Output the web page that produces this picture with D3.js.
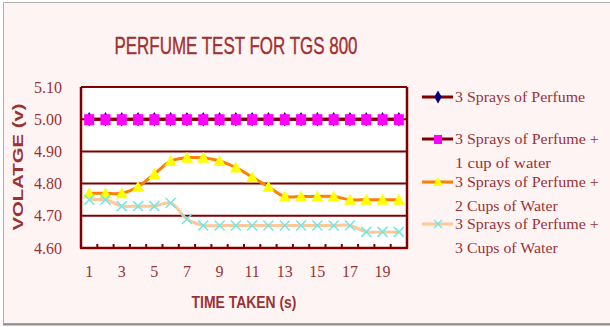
<!DOCTYPE html>
<html>
<head>
<meta charset="utf-8">
<script src="https://cdn.jsdelivr.net/npm/d3@7"></script>
<style>
  body { margin: 0; background: #fff; }
  svg { display: block; }
  text { fill: #993333; }
</style>
</head>
<body>
<div id="chart-area"></div>
<script>
// data
var times = d3.range(1, 21);
var yTicks = [4.60, 4.70, 4.80, 4.90, 5.00, 5.10];
var seriesNames = [
  ["3 Sprays of Perfume"],
  ["3 Sprays of Perfume +", "1 cup of water"],
  ["3 Sprays of Perfume +", "2 Cups of Water"],
  ["3 Sprays of Perfume +", "3 Cups of Water"]
];
var perfume = [5.00, 5.00, 5.00, 5.00, 5.00, 5.00, 5.00, 5.00, 5.00, 5.00,
               5.00, 5.00, 5.00, 5.00, 5.00, 5.00, 5.00, 5.00, 5.00, 5.00];
var oneCup  = [5.00, 5.00, 5.00, 5.00, 5.00, 5.00, 5.00, 5.00, 5.00, 5.00,
               5.00, 5.00, 5.00, 5.00, 5.00, 5.00, 5.00, 5.00, 5.00, 5.00];
var twoCups = [4.77, 4.77, 4.77, 4.79, 4.83, 4.87, 4.88, 4.88, 4.87, 4.85,
               4.82, 4.79, 4.76, 4.76, 4.76, 4.76, 4.75, 4.75, 4.75, 4.75];
var threeCups = [4.75, 4.75, 4.73, 4.73, 4.73, 4.74, 4.69, 4.67, 4.67, 4.67,
                 4.67, 4.67, 4.67, 4.67, 4.67, 4.67, 4.67, 4.65, 4.65, 4.65];

var W = 610, H = 327;
var margin = {left: 81, right: 203, top: 87, bottom: 79};
var width = W - margin.left - margin.right,
    height = H - margin.top - margin.bottom;

var svg = d3.select("#chart-area").append("svg")
    .attr("width", W)
    .attr("height", H);

// pink chart background with grey frame
svg.append("rect")
    .attr("x", 3.5).attr("y", 2.5)
    .attr("width", W).attr("height", 321)
    .attr("fill", "#fff4f4");
svg.append("path")
    .attr("d", "M" + W + ",2.5H3.5V323.5H" + W)
    .attr("fill", "none")
    .attr("stroke", "#b0b0b0")
    .attr("stroke-width", 1);
svg.append("line")
    .attr("x1", 3).attr("x2", W).attr("y1", 324.5).attr("y2", 324.5)
    .attr("stroke", "#909090").attr("stroke-width", 2);

// title
svg.append("text")
    .attr("x", 236).attr("y", 54)
    .attr("text-anchor", "middle")
    .attr("textLength", 243)
    .attr("lengthAdjust", "spacingAndGlyphs")
    .style("font-family", "'Liberation Sans Narrow', 'Liberation Sans', sans-serif")
    .style("font-size", "24px")
    .style("fill", "#a03030")
    .style("stroke", "#a03030")
    .style("stroke-width", 0.4)
    .text("PERFUME TEST FOR TGS 800");

var g = svg.append("g")
    .attr("transform", "translate(" + margin.left + "," + margin.top + ")");

var x = d3.scaleBand()
    .domain(times)
    .range([0, width])
    .padding(0);

var y = d3.scaleLinear()
    .domain([4.6, 5.1])
    .range([height, 0]);

var cx = function (d, i) { return x(times[i]) + x.bandwidth() / 2; };

g.append("rect")
    .attr("width", width).attr("height", height)
    .attr("fill", "#ffffff");

// gridlines
g.append("g")
    .selectAll("line")
    .data(yTicks.slice(1))
    .enter().append("line")
    .attr("x1", 0).attr("x2", width)
    .attr("y1", function (d) { return y(d); })
    .attr("y2", function (d) { return y(d); })
    .attr("stroke", "#800000")
    .attr("stroke-width", 2);

// y axis labels
g.append("g")
    .selectAll("text")
    .data(yTicks)
    .enter().append("text")
    .attr("x", -19)
    .attr("y", function (d) { return y(d); })
    .attr("dy", "0.35em")
    .attr("text-anchor", "end")
    .style("font-family", "'Liberation Serif', serif")
    .style("font-size", "16px")
    .text(function (d) { return d3.format(".2f")(d); });

// x axis with inner ticks at category boundaries
var xAxis = g.append("g")
    .attr("transform", "translate(0," + height + ")");
xAxis.selectAll("line")
    .data(times.slice(1))
    .enter().append("line")
    .attr("x1", function (d) { return x(d); })
    .attr("x2", function (d) { return x(d); })
    .attr("y1", 0).attr("y2", -4)
    .attr("stroke", "#800000").attr("stroke-width", 2);
xAxis.selectAll("text")
    .data(times.filter(function (d) { return d % 2 === 1; }))
    .enter().append("text")
    .attr("x", function (d) { return x(d) + x.bandwidth() / 2; })
    .attr("y", 29)
    .attr("text-anchor", "middle")
    .style("font-family", "'Liberation Serif', serif")
    .style("font-size", "16px")
    .text(function (d) { return d; });

// frame: left axis and bottom axis
g.append("path")
    .attr("d", "M0,0V" + height + "H" + width + "V0")
    .attr("fill", "none")
    .attr("stroke", "#800000")
    .attr("stroke-width", 2.5)
    .attr("stroke-linejoin", "round");

// axis titles
svg.append("text")
    .attr("x", 244).attr("y", 308)
    .attr("text-anchor", "middle")
    .attr("textLength", 105)
    .attr("lengthAdjust", "spacingAndGlyphs")
    .style("font-family", "'Liberation Sans Narrow', 'Liberation Sans', sans-serif")
    .style("font-weight", "bold")
    .style("font-size", "17px")
    .text("TIME TAKEN (s)");

svg.append("text")
    .attr("transform", "translate(23,167) rotate(-90)")
    .attr("text-anchor", "middle")
    .attr("textLength", 127)
    .attr("lengthAdjust", "spacingAndGlyphs")
    .style("font-family", "'Liberation Sans', sans-serif")
    .style("font-weight", "bold")
    .style("font-size", "15px")
    .text("VOLATGE (v)");

// series
var styles = [
  {data: perfume,   line: "#800000", marker: "diamond"},
  {data: oneCup,    line: "#800000", marker: "square"},
  {data: twoCups,   line: "#ff8000", marker: "triangle"},
  {data: threeCups, line: "#ffc896", marker: "cross"}
];

var line = d3.line()
    .x(cx)
    .y(function (d) { return y(d); })
    .curve(d3.curveCatmullRom);

function drawMarker(sel, type, size) {
  if (type === "diamond") {
    sel.append("path")
      .attr("d", d3.symbol(d3.symbolDiamond, size * 6)())
      .attr("fill", "#000080");
  } else if (type === "square") {
    sel.append("rect")
      .attr("x", -size / 2).attr("y", -size / 2)
      .attr("width", size).attr("height", size + 1)
      .attr("fill", "#ff00ff");
  } else if (type === "triangle") {
    sel.append("path")
      .attr("d", "M0," + (-size / 2 - 1) + "L" + (size / 2 + 1) + "," + (size / 2) + "L" + (-size / 2 - 1) + "," + (size / 2) + "Z")
      .attr("fill", "#ffff00");
  } else {
    var h = size / 2;
    sel.append("path")
      .attr("d", "M" + (-h) + "," + (-h) + "L" + h + "," + h + "M" + h + "," + (-h) + "L" + (-h) + "," + h)
      .attr("stroke", "#70e8e8")
      .attr("stroke-width", 1.5)
      .attr("fill", "none");
  }
}

styles.forEach(function (s) {
  g.append("path")
    .datum(s.data)
    .attr("d", line)
    .attr("fill", "none")
    .attr("stroke", s.line)
    .attr("stroke-width", 3);
  g.append("g")
    .selectAll("g")
    .data(s.data)
    .enter().append("g")
    .attr("transform", function (d, i) { return "translate(" + cx(d, i) + "," + y(d) + ")"; })
    .each(function () { drawMarker(d3.select(this), s.marker, 10); });
});

// legend
var legendY = [97, 139, 182, 224];
var legend = svg.append("g");
styles.forEach(function (s, i) {
  var item = legend.append("g")
    .attr("transform", "translate(0," + legendY[i] + ")");
  item.append("line")
    .attr("x1", 422).attr("x2", 453)
    .attr("stroke", s.line).attr("stroke-width", 3);
  var m = item.append("g").attr("transform", "translate(438,0)");
  drawMarker(m, s.marker, 8);
  seriesNames[i].forEach(function (t, j) {
    item.append("text")
      .attr("x", 455)
      .attr("y", j * 24)
      .attr("dy", "0.35em")
      .attr("textLength", t.length * 6.85)
      .attr("lengthAdjust", "spacingAndGlyphs")
      .style("font-family", "'Liberation Serif', serif")
      .style("font-size", "15px")
      .text(t);
  });
});
</script>
</body>
</html>
